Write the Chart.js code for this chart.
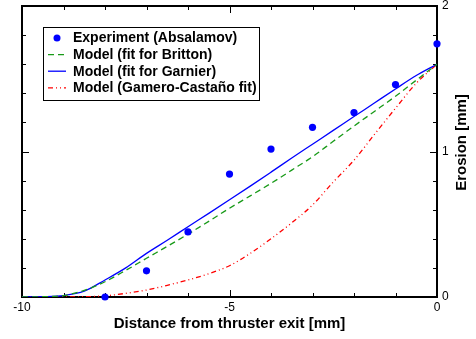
<!DOCTYPE html>
<html>
<head>
<meta charset="utf-8">
<script src="https://cdn.jsdelivr.net/npm/chart.js@4/dist/chart.umd.min.js"></script>
<style>
  body { margin: 0; background: #fff; }
  #wrap { width: 476px; height: 339px; position: relative; }
</style>
</head>
<body>
<div id="wrap"><canvas id="erosion"></canvas></div>
<script>
// measured points
const expX = [-8, -7, -6, -5, -4, -3, -2, -1, 0];
const expY = [0.0, 0.18, 0.447, 0.845, 1.017, 1.166, 1.268, 1.46, 1.74];

const modelX = [-10, -9.5, -9, -8.5, -8, -7.5, -7, -6.5, -6, -5.5, -5, -4.5, -4, -3.5, -3, -2.5, -2, -1.5, -1, -0.5, 0];
const britton = [0, 0.002, 0.01, 0.045, 0.105, 0.183, 0.266, 0.348, 0.432, 0.52, 0.61, 0.695, 0.781, 0.872, 0.964, 1.07, 1.175, 1.277, 1.38, 1.49, 1.6];
const garnier = [0, 0.002, 0.01, 0.04, 0.117, 0.2, 0.3, 0.39, 0.483, 0.575, 0.668, 0.762, 0.858, 0.955, 1.05, 1.145, 1.24, 1.335, 1.43, 1.522, 1.6];
const gamero = [0, 0, 0, 0.002, 0.008, 0.025, 0.048, 0.08, 0.117, 0.16, 0.215, 0.3, 0.4, 0.51, 0.632, 0.79, 0.94, 1.12, 1.297, 1.469, 1.6];

const xMajor = [-10, -5, 0];
const xMinorStep = 1;
const yMajor = [0, 1, 2];
const yMinorStep = 0.2;

const seriesLabels = ['Experiment (Absalamov)', 'Model (fit for Britton)', 'Model (fit for Garnier)', 'Model (Gamero-Castaño fit)'];
const xTitle = 'Distance from thruster exit [mm]';
const yTitle = 'Erosion [mm]';

const pts = (xs, ys) => xs.map((v, i) => ({x: v, y: ys[i]}));

// frame + inward ticks on all four sides
const framePlugin = {
  id: 'frame',
  beforeDatasetsDraw(chart) {
    const {ctx, chartArea: a, scales: {x, y}} = chart;
    ctx.save();
    ctx.strokeStyle = '#000';
    ctx.lineWidth = 1;
    const seg = (x1, y1, x2, y2) => { ctx.beginPath(); ctx.moveTo(x1, y1); ctx.lineTo(x2, y2); ctx.stroke(); };
    for (let v = x.min; v <= x.max + 1e-6; v += xMinorStep) {
      const px = Math.round(x.getPixelForValue(v)) + 0.5;
      const len = xMajor.some(m => Math.abs(m - v) < 1e-6) ? 7 : 4;
      seg(px, a.bottom, px, a.bottom - len);
      seg(px, a.top, px, a.top + len);
    }
    for (let i = 0; i * yMinorStep <= y.max + 1e-6; i++) {
      const v = i * yMinorStep;
      const py = Math.round(y.getPixelForValue(v)) + 0.5;
      const len = yMajor.some(m => Math.abs(m - v) < 1e-6) ? 7 : 4;
      seg(a.left, py, a.left + len, py);
      seg(a.right, py, a.right - len, py);
    }
    ctx.lineWidth = 2;
    ctx.strokeRect(a.left, a.top, a.right - a.left, a.bottom - a.top);
    ctx.restore();
  },
  afterDraw(chart) {
    // y title reads bottom-to-top on the right side
    const {ctx, chartArea: a} = chart;
    ctx.save();
    ctx.translate(462, (a.top + a.bottom) / 2 - 9);
    ctx.rotate(-Math.PI / 2);
    ctx.font = 'bold 15px "Liberation Sans", Arial, sans-serif';
    ctx.fillStyle = '#000';
    ctx.textAlign = 'center';
    ctx.textBaseline = 'middle';
    ctx.fillText(yTitle, 0, 0);
    ctx.restore();
  }
};

// boxed legend inside the plot, upper left
const boxLegend = {
  id: 'boxLegend',
  afterDatasetsDraw(chart) {
    const {ctx} = chart;
    const bx = 43.5, by = 27.5, bw = 216, bh = 73;
    ctx.save();
    ctx.fillStyle = '#fff';
    ctx.fillRect(bx, by, bw, bh);
    ctx.strokeStyle = '#000';
    ctx.lineWidth = 1;
    ctx.strokeRect(bx, by, bw, bh);
    ctx.font = 'bold 14px "Liberation Sans", Arial, sans-serif';
    ctx.textBaseline = 'middle';
    chart.data.datasets.forEach((ds, i) => {
      const ly = 38 + i * 16.6;
      if (ds.showLine === false) {
        ctx.fillStyle = ds.pointBackgroundColor;
        ctx.beginPath();
        ctx.arc(57, ly, 3.5, 0, Math.PI * 2);
        ctx.fill();
      } else {
        ctx.strokeStyle = ds.borderColor;
        ctx.lineWidth = ds.borderWidth;
        ctx.setLineDash(ds.borderDash || []);
        ctx.beginPath();
        ctx.moveTo(48, ly);
        ctx.lineTo(66, ly);
        ctx.stroke();
        ctx.setLineDash([]);
      }
      ctx.fillStyle = '#000';
      ctx.fillText(ds.label, 73, ly + 0.5);
    });
    ctx.restore();
  }
};

const lineStyle = (color, dash) => ({
  borderColor: color,
  borderWidth: 1.3,
  borderDash: dash,
  pointRadius: 0,
  fill: false,
  cubicInterpolationMode: 'monotone'
});

new Chart(document.getElementById('erosion'), {
  type: 'line',
  data: {
    datasets: [
      {
        label: seriesLabels[0],
        data: pts(expX, expY),
        showLine: false,
        pointRadius: 3.6,
        pointBackgroundColor: '#0000ff',
        pointBorderColor: '#0000ff',
        pointBorderWidth: 0,
        clip: false
      },
      Object.assign({label: seriesLabels[1], data: pts(modelX, britton)}, lineStyle('#189a18', [6, 4])),
      Object.assign({label: seriesLabels[2], data: pts(modelX, garnier)}, lineStyle('#0000ff', [])),
      Object.assign({label: seriesLabels[3], data: pts(modelX, gamero)}, lineStyle('#ff0000', [5, 3, 1, 3, 1, 3]))
    ]
  },
  options: {
    responsive: true,
    maintainAspectRatio: false,
    animation: false,
    layout: { padding: { left: 22, top: 6, right: 0, bottom: 0 } },
    plugins: { legend: { display: false }, tooltip: { enabled: false } },
    scales: {
      x: {
        type: 'linear',
        position: 'bottom',
        min: -10,
        max: 0,
        grid: { display: false, drawTicks: false },
        border: { display: false },
        ticks: {
          stepSize: 5,
          padding: 3,
          color: '#000',
          font: { family: '"Liberation Sans", Arial, sans-serif', size: 12 }
        },
        title: {
          display: true,
          text: xTitle,
          color: '#000',
          padding: { top: 4, bottom: 6 },
          font: { family: '"Liberation Sans", Arial, sans-serif', size: 15, weight: 'bold' }
        },
        afterFit(s) { s.height = 42; s.paddingLeft = 0; s.paddingRight = 0; }
      },
      y: {
        type: 'linear',
        position: 'right',
        min: 0,
        max: 2,
        grid: { display: false, drawTicks: false },
        border: { display: false },
        ticks: {
          stepSize: 1,
          padding: 5,
          color: '#000',
          font: { family: '"Liberation Sans", Arial, sans-serif', size: 12 }
        },
        afterFit(s) { s.width = 39; s.paddingTop = 0; s.paddingBottom = 0; }
      }
    }
  },
  plugins: [framePlugin, boxLegend]
});
</script>
</body>
</html>
